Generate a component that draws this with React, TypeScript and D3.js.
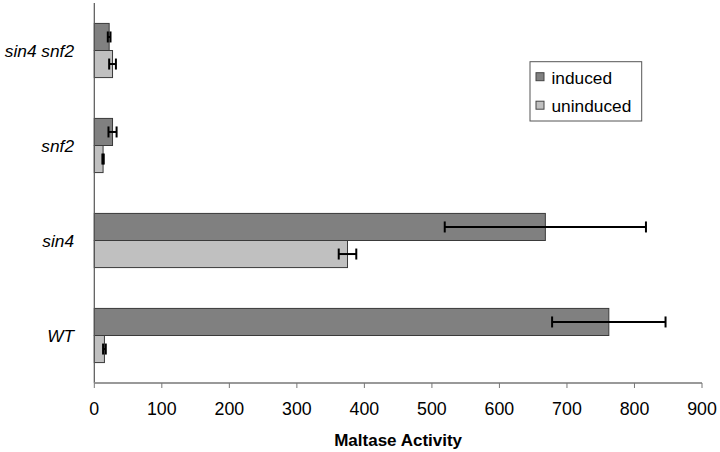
import React from "react";
import * as d3 from "d3";

const categories = ["sin4 snf2", "snf2", "sin4", "WT"];
const seriesNames = ["induced", "uninduced"];
const inducedValues = [22, 27, 668, 762];
const inducedErrors = [2, 6, 149, 84];
const uninducedValues = [27, 13, 375, 15];
const uninducedErrors = [5, 1, 13, 2];
const xTicks = [0, 100, 200, 300, 400, 500, 600, 700, 800, 900];

const W = 720;
const H = 452;
const FONT = "'Liberation Sans', Arial, sans-serif";
const colors: Record<string, string> = { induced: "#808080", uninduced: "#c0c0c0" };

export default function App() {
  const x = d3.scaleLinear().domain([0, 900]).range([94.3, 702]);
  const y = d3.scaleBand<string>().domain(categories).range([3, 383]).paddingInner(0.43).paddingOuter(0.215);
  const sub = d3.scaleBand<string>().domain(seriesNames).range([0, y.bandwidth()]);

  const data = categories.flatMap((c, i) => [
    { cat: c, s: "induced", v: inducedValues[i], e: inducedErrors[i] },
    { cat: c, s: "uninduced", v: uninducedValues[i], e: uninducedErrors[i] },
  ]);
  const y0 = 383;

  return (
    <svg width={W} height={H} style={{ position: "absolute", left: 0, top: 0, background: "#fff" }} fontFamily={FONT}>
      <rect x={0} y={0} width={W} height={H} fill="#fff" />
      {data.map((d, i) => {
        const by = (y(d.cat) as number) + (sub(d.s) as number);
        return (
          <rect key={"b" + i} x={x(0)} y={by} width={x(d.v) - x(0)} height={sub.bandwidth()}
            fill={colors[d.s]} stroke="#3a3a3a" strokeWidth={1} />
        );
      })}
      {data.map((d, i) => {
        const cy = (y(d.cat) as number) + (sub(d.s) as number) + sub.bandwidth() / 2;
        const x1 = x(d.v - d.e);
        const x2 = x(d.v + d.e);
        return (
          <g key={"e" + i} stroke="#000" strokeWidth={2}>
            <line x1={x1} x2={x2} y1={cy} y2={cy} />
            <line x1={x1} x2={x1} y1={cy - 5.5} y2={cy + 5.5} />
            <line x1={x2} x2={x2} y1={cy - 5.5} y2={cy + 5.5} />
          </g>
        );
      })}
      {/* axes */}
      <line x1={x(0)} x2={x(0)} y1={3} y2={y0} stroke="#555" strokeWidth={1.2} />
      <line x1={x(0)} x2={x(900)} y1={y0} y2={y0} stroke="#999" strokeWidth={1.8} />
      {xTicks.map((t) => (
        <g key={"t" + t}>
          <line x1={x(t)} x2={x(t)} y1={y0} y2={y0 + 5} stroke="#777" strokeWidth={1} />
          <text x={x(t)} y={414.5} textAnchor="middle" fontSize={17.8} fill="#000">{t}</text>
        </g>
      ))}
      {categories.map((c) => (
        <text key={"c" + c} x={74} y={(y(c) as number) + y.bandwidth() / 2 + 6} textAnchor="end"
          fontSize={17.3} fontStyle="italic" fill="#000">{c}</text>
      ))}
      <text x={(x(0) + x(900)) / 2} y={446} textAnchor="middle" fontSize={17} fontWeight="bold" fill="#000">
        Maltase Activity
      </text>
      {/* legend */}
      <rect x={530} y={61.7} width={111.7} height={59.3} fill="#fff" stroke="#555" strokeWidth={1} />
      {seriesNames.map((s, i) => (
        <g key={"l" + s}>
          <rect x={536} y={72.7 + i * 28.5} width={8} height={8} fill={colors[s]} stroke="#444" strokeWidth={1} />
          <text x={551.5} y={83.5 + i * 28.5} fontSize={17.3} fill="#000">{s}</text>
        </g>
      ))}
    </svg>
  );
}
